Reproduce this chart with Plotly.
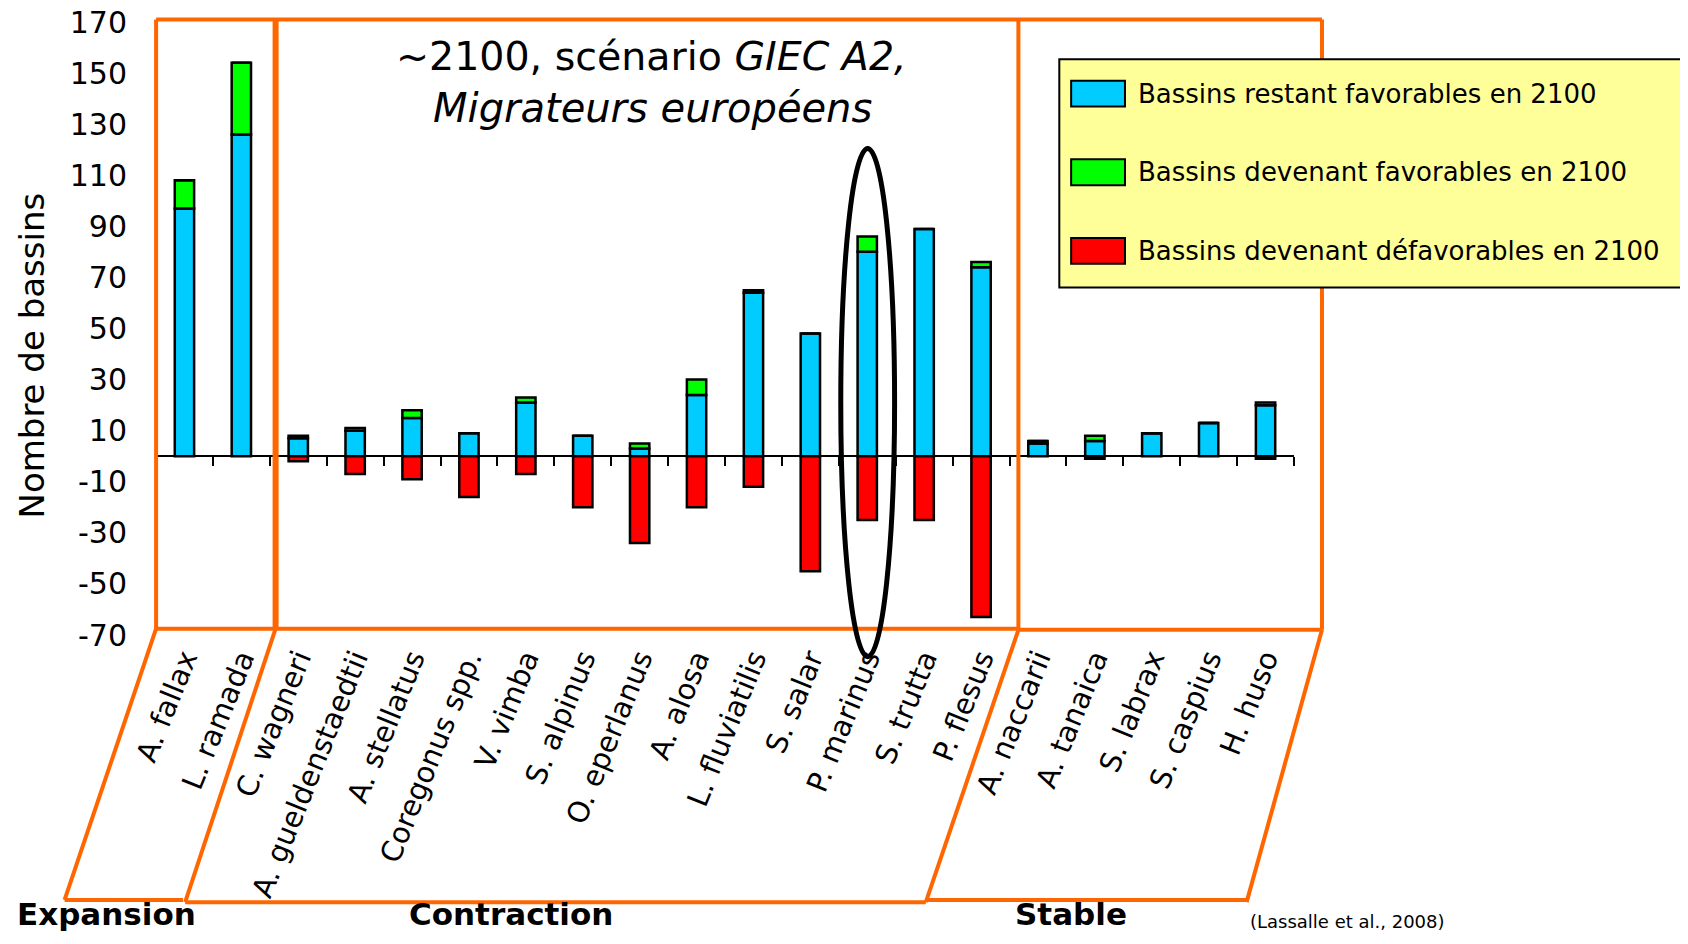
import plotly.graph_objects as go

# ---------------- data ----------------
species = ["A. fallax", "L. ramada", "C. wagneri", "A. gueldenstaedtii", "A. stellatus",
           "Coregonus spp.", "V. vimba", "S. alpinus", "O. eperlanus", "A. alosa",
           "L. fluviatilis", "S. salar", "P. marinus", "S. trutta", "P. flesus",
           "A. naccarii", "A. tanaica", "S. labrax", "S. caspius", "H. huso"]
restant_favorables = [97, 126, 7, 10, 15, 9, 21, 8, 3, 24, 64, 48, 80, 89, 74, 5, 6, 9, 13, 20]
devenant_favorables = [11, 28, 1, 1, 3, 0, 2, 0, 2, 6, 1, 0, 6, 0, 2, 1, 2, 0, 0, 1]
devenant_defavorables = [0, 0, -2, -7, -9, -16, -7, -20, -34, -20, -12, -45, -25, -25, -63, 0, -1, 0, 0, -1]
series_names = ["Bassins restant favorables en 2100",
                "Bassins devenant favorables en 2100",
                "Bassins devenant défavorables en 2100"]
series_colors = ["#00CCFF", "#00FF00", "#FF0000"]
y_ticks = [-70, -50, -30, -10, 10, 30, 50, 70, 90, 110, 130, 150, 170]
groups = ["Expansion", "Contraction", "Stable"]

FONT = "DejaVu Sans"
O = 8                      # default page margin of the html body
W, H = 1688 - 2 * O, 944 - 2 * O
S = 1688 / 1568.0          # reference picture scale
# plot area in page pixels of the reference
PL, PR, PT, PB = 145 * S, 1202 * S, 20 * S, 590 * S
L = int(round(PL - O))
R = int(round(W - (PR - O)))
T = int(round(PT - O))
B = int(round(H - (PB - O)))
PW, PH = W - L - R, H - T - B
YMIN, YMAX = y_ticks[0], y_ticks[-1]


def px(xd):
    return (xd * S - O - L) / PW


def py(yd):
    return (H - B - (yd * S - O)) / PH


fig = go.Figure()
for vals, name, col in zip([restant_favorables, devenant_favorables, devenant_defavorables],
                           series_names, series_colors):
    fig.add_bar(x=species, y=vals, name=name, width=0.34,
                marker=dict(color=col, line=dict(color="black", width=2.5)),
                showlegend=False)

# invisible trace carrying the zero-line axis
fig.add_scatter(x=species, y=[0] * len(species), xaxis="x2", mode="markers",
                marker=dict(opacity=0), showlegend=False, hoverinfo="skip")

xr = [-0.5, len(species) - 0.5]
fig.update_layout(
    width=W, height=H, margin=dict(l=L, r=R, t=T, b=B, autoexpand=False),
    paper_bgcolor="white", plot_bgcolor="white",
    barmode="relative",
    font=dict(family=FONT, color="black"),
    xaxis=dict(type="category", range=xr, autorange=False, showline=False, ticks="",
               tickangle=-68, tickfont=dict(size=29, family=FONT, color="black"),
               showgrid=False, zeroline=False, automargin=False),
    xaxis2=dict(type="category", overlaying="x", range=xr, autorange=False, anchor="free",
                position=(0 - YMIN) / (YMAX - YMIN),
                showline=True, linecolor="black", linewidth=1.5,
                ticks="outside", ticklen=9, tickwidth=1.5, tickcolor="black",
                tickson="boundaries", showticklabels=False, showgrid=False,
                zeroline=False),
    yaxis=dict(range=[YMIN, YMAX], tickvals=y_ticks, ticktext=[str(v) for v in y_ticks],
               showgrid=False, zeroline=False, showline=False, ticks="",
               tickfont=dict(size=30, family=FONT, color="black"),
               ticklabelstandoff=28, ticklabeloverflow="allow", automargin=False),
)

ORANGE = "#FF6600"
shapes = []


def seg(x0, y0, x1, y1, color=ORANGE, width=4):
    shapes.append(dict(type="line", xref="paper", yref="paper",
                       x0=px(x0), y0=py(y0), x1=px(x1), y1=py(y1),
                       line=dict(color=color, width=width)))


# upper boxes
seg(145, 18, 1228, 18)
seg(145, 18, 145, 584)
seg(256, 18, 256, 584, width=6)
seg(946, 18, 946, 585)
seg(1228, 18, 1228, 585)
seg(145, 584, 946, 584)
seg(946, 585, 1228, 585)
# lower parallelograms
seg(145, 584, 60, 836)
seg(256, 584, 172, 838)
seg(946, 585, 860, 838)
seg(1228, 585, 1158, 838)
seg(60, 836, 170, 836)
seg(172, 838, 860, 838)
seg(860, 836, 1158, 836)

# highlight ellipse around P. marinus
shapes.append(dict(type="circle", xref="paper", yref="paper",
                   x0=px(781), x1=px(831), y0=py(610), y1=py(138),
                   line=dict(color="black", width=5)))

# legend box
shapes.append(dict(type="rect", xref="paper", yref="paper",
                   x0=px(984), x1=px(1567), y0=py(267), y1=py(55),
                   fillcolor="#FFFF99", line=dict(color="black", width=2)))
annotations = []
for i, (name, col) in enumerate(zip(series_names, series_colors)):
    yc = 87 + i * 73
    shapes.append(dict(type="rect", xref="paper", yref="paper",
                       x0=px(995), x1=px(1045), y0=py(yc + 12), y1=py(yc - 12),
                       fillcolor=col, line=dict(color="black", width=2)))
    annotations.append(dict(text=name, xref="paper", yref="paper", x=px(1055), y=py(yc),
                            xanchor="left", yanchor="middle", showarrow=False,
                            font=dict(size=26, family=FONT, color="black")))

# title
annotations.append(dict(text="~2100, scénario <i>GIEC A2,</i>", xref="paper", yref="paper",
                        x=px(605), y=py(52), xanchor="center", yanchor="middle",
                        showarrow=False, font=dict(size=39.5, family=FONT, color="black")))
annotations.append(dict(text="<i>Migrateurs européens</i>", xref="paper", yref="paper",
                        x=px(606), y=py(100), xanchor="center", yanchor="middle",
                        showarrow=False, font=dict(size=40, family=FONT, color="black")))
# y axis title
annotations.append(dict(text="Nombre de bassins", xref="paper", yref="paper",
                        x=px(30), y=py(330), textangle=-90, xanchor="center", yanchor="middle",
                        showarrow=False, font=dict(size=34, family=FONT, color="black")))
# group labels
for g, xc in zip(groups, [99, 475, 995]):
    annotations.append(dict(text="<b>" + g + "</b>", xref="paper", yref="paper",
                            x=px(xc), y=py(849), xanchor="center", yanchor="middle",
                            showarrow=False, font=dict(size=31, family=FONT, color="black")))
annotations.append(dict(text="(Lassalle et al., 2008)", xref="paper", yref="paper",
                        x=px(1252), y=py(856), xanchor="center", yanchor="middle",
                        showarrow=False, font=dict(size=18, family=FONT, color="black")))

fig.update_layout(shapes=shapes, annotations=annotations)
fig.write_html("out.html")
